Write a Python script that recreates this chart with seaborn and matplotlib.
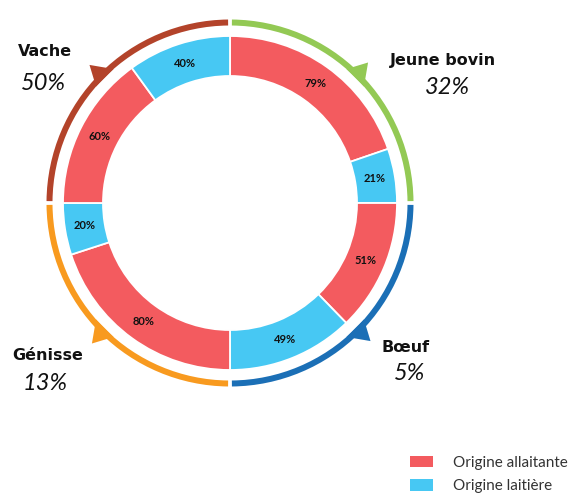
import numpy as np
import matplotlib
matplotlib.use("Agg")
import matplotlib.pyplot as plt
from matplotlib.patches import Wedge, Polygon, Patch
import seaborn as sns

# %% data
categories = ["Jeune bovin", "Bœuf", "Génisse", "Vache"]
category_share = ["32%", "5%", "13%", "50%"]
allaitante = [79, 51, 80, 60]
laitiere = [21, 49, 20, 40]
series_names = ["Origine allaitante", "Origine laitière"]

# %% style
sns.set_theme(style="white")
plt.rcParams["font.family"] = ["Lato", "DejaVu Sans"]
seg_colors = sns.color_palette(["#F35B5F", "#47C8F3"])
arc_colors = ["#93C954", "#1B6FB6", "#F89A1F", "#B3432A"]

# pixel geometry of the reference: centre (230, 203), ring radius 167 px
W, H = 579, 494
cx, cy, R = 230, 203, 167.0

fig = plt.figure(figsize=(W / 100, H / 100), dpi=100)
ax = fig.add_axes([0, 0, 1, 1])


def px(x, y):
    return (x - cx) / R, (cy - y) / R


# each category gets one quarter, split by origin
values = []
colors = []
for a, l in zip(allaitante, laitiere):
    values += [a, l]
    colors += [seg_colors[0], seg_colors[1]]

wedges, _ = ax.pie(values, colors=colors, startangle=90, counterclock=False,
                   radius=1.0, wedgeprops=dict(width=40 / R, edgecolor="white",
                                               linewidth=1.3))
# pie resets limits, so fix them afterwards
ax.set_aspect("auto")
ax.set_xlim(-cx / R, (W - cx) / R)
ax.set_ylim(-(H - cy) / R, cy / R)
ax.axis("off")

# segment labels
r_mid = 1.0 - 20 / R
for w, v in zip(wedges, values):
    ang = np.deg2rad((w.theta1 + w.theta2) / 2)
    ax.text(r_mid * np.cos(ang), r_mid * np.sin(ang), f"{v}%",
            ha="center", va="center", fontsize=8, fontweight="bold",
            color="#111111")

# outer coloured arcs with a barb
r_in, r_out = 177.5 / R, 183.5 / R
gap = 0.6
for i, c in enumerate(arc_colors):
    t2 = 90 - 90 * i - gap
    t1 = 90 - 90 * (i + 1) + gap
    ax.add_patch(Wedge((0, 0), r_out, t1, t2, width=r_out - r_in,
                       facecolor=c, edgecolor="none"))
    mid = (t1 + t2) / 2
    base_a = np.deg2rad([mid - 4, mid + 4])
    tip = np.deg2rad(mid + 0.5)
    pts = [(r_in * np.cos(base_a[0]), r_in * np.sin(base_a[0])),
           (197 / R * np.cos(tip), 197 / R * np.sin(tip)),
           (r_in * np.cos(base_a[1]), r_in * np.sin(base_a[1]))]
    ax.add_patch(Polygon(pts, closed=True, facecolor=c, edgecolor="none"))

# category labels
name_pos = [(443, 61), (406, 347), (48, 356), (45, 52)]
share_pos = [(447, 88), (410, 374), (45, 383), (44, 83)]
for name, share, npos, spos in zip(categories, category_share, name_pos, share_pos):
    ax.text(*px(*npos), name, ha="center", va="center", fontsize=11.5,
            fontweight="bold", color="#111111", family="DejaVu Sans")
    ax.text(*px(*spos), share, ha="center", va="center", fontsize=17,
            style="italic", color="#111111")

handles = [Patch(facecolor=seg_colors[0], edgecolor="none"),
           Patch(facecolor=seg_colors[1], edgecolor="none")]
fig.legend(handles, series_names, loc="upper left",
           bbox_to_anchor=(396 / W, 1 - 442 / H), frameon=False,
           fontsize=11, handlelength=1.5, handleheight=0.8,
           handletextpad=1.35, labelspacing=0.6, labelcolor="#333333")

fig.savefig("out.png", dpi=100)
